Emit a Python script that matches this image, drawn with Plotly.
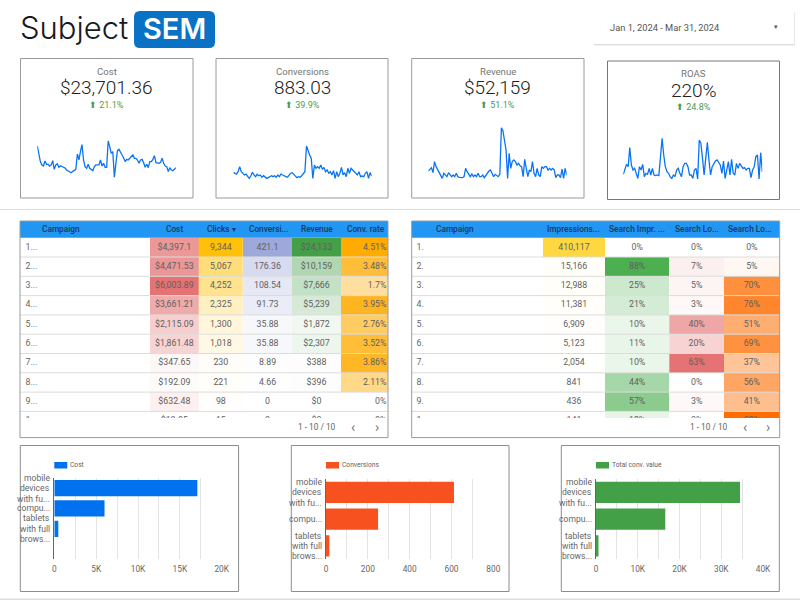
import plotly.graph_objects as go

W, H = 800, 601
# ---------- data ----------
kpi_names = ["Cost", "Conversions", "Revenue", "ROAS"]
kpi_values = ["$23,701.36", "883.03", "$52,159", "220%"]
kpi_deltas = ["21.1%", "39.9%", "51.1%", "24.8%"]

cost_daily = [488,389,315,278,266,322,285,285,266,278,326,229,278,292,252,270,259,248,244,222,215,200,192,207,222,229,400,333,426,503,333,259,241,285,241,222,215,259,278,278,278,333,266,296,252,252,544,481,407,426,141,296,437,451,426,389,359,315,340,333,352,377,389,352,352,333,296,333,340,303,252,285,248,315,315,340,381,303,296,296,307,352,296,266,259,204,248,222,215,229,248]
conv_daily = [11.4,10.8,10.3,11.8,15.1,11.8,10.8,9.7,10.3,9.2,7.5,9.0,11.4,9.7,8.6,10.1,9.2,9.7,8.2,9.2,8.2,7.5,8.0,8.6,9.2,8.6,9.2,8.2,9.7,8.6,10.3,9.7,9.0,8.6,8.2,9.7,10.8,11.2,10.1,9.2,8.0,8.6,8.2,9.2,10.8,11.8,28.4,24.7,22.6,20.4,7.5,16.1,14.0,15.1,14.0,16.1,13.3,14.6,11.8,12.9,10.8,11.8,9.7,12.5,7.5,11.8,8.6,10.8,14.6,9.7,11.2,8.6,14.0,10.8,14.0,12.9,11.8,11.2,9.7,11.8,8.6,9.0,8.6,10.8,11.8,7.5,11.2,9.0]
rev_daily = [655,713,770,598,977,805,690,632,517,402,575,517,460,598,517,460,517,460,575,460,437,437,425,460,747,632,517,460,552,460,517,460,575,460,460,517,425,517,575,655,690,575,460,540,494,460,540,2150,2035,1725,1380,402,1265,747,977,1035,977,862,920,839,805,460,1058,747,460,690,632,977,575,460,747,517,460,805,747,805,805,690,747,690,747,690,425,517,517,425,724,402,747,517]
roas_daily = [141,180,231,210,381,225,180,195,150,105,210,180,231,120,150,141,195,135,195,135,129,135,129,285,465,315,210,165,150,120,105,135,120,180,195,150,120,210,240,240,210,135,135,105,180,195,99,450,420,285,135,285,429,270,135,210,240,261,270,249,225,150,261,105,195,255,135,276,150,135,240,195,240,210,195,201,180,195,195,111,180,210,300,315,99,336,165]

t1_headers = ["Campaign", "Cost", "Clicks ▾", "Conversi...", "Revenue", "Conv. rate"]
t1_rank = ["1...", "2...", "3...", "4...", "5...", "6...", "7...", "8...", "9...", "1..."]
t1_cost = [4397.1, 4471.53, 6003.89, 3661.21, 2115.09, 1861.48, 347.65, 192.09, 632.48, 19.05]
t1_clicks = [9344, 5067, 4252, 2325, 1300, 1018, 230, 221, 98, 15]
t1_conv = [421.1, 176.36, 108.54, 91.73, 35.88, 35.88, 8.89, 4.66, 0, 0]
t1_rev = [24133, 10159, 7666, 5239, 1872, 2307, 388, 396, 0, 0]
t1_rate = [4.51, 3.48, 1.7, 3.95, 2.76, 3.52, 3.86, 2.11, 0, 0]

t2_headers = ["Campaign", "Impressions...", "Search Impr. ...", "Search Lo...", "Search Lo..."]
t2_rank = ["1.", "2.", "3.", "4.", "5.", "6.", "7.", "8.", "9.", "1."]
t2_impr = [410117, 15166, 12988, 11381, 6909, 5123, 2054, 841, 436, 141]
t2_share = [0, 88, 25, 21, 10, 11, 10, 44, 57, 12]
t2_lost_a = [0, 7, 5, 3, 40, 20, 63, 0, 3, 0]
t2_lost_b = [0, 5, 70, 76, 51, 69, 37, 56, 41, 92]

device_labels = [["mobile", "devices", "with fu..."], ["compu..."], ["tablets", "with full", "brows..."]]
device_cost = [17090, 6000, 480, None]
device_conv = [612, 249, 16]
device_value = [34500, 16600, 600]

# ---------- helpers ----------
px = lambda x: x / W
py = lambda y: 1 - y / H
shapes, annos, traces, axes = [], [], [], {}

def rect(x0, y0, x1, y1, line=None, fill=None, lw=1):
    shapes.append(dict(type="rect", xref="paper", yref="paper", x0=px(x0), x1=px(x1), y0=py(y0), y1=py(y1),
                       line=dict(color=line, width=lw) if line else dict(width=0), fillcolor=fill or "rgba(0,0,0,0)"))

def text(x, y, s, size=10, color="#555555", anchor="center", family="Roboto", weight=None):
    f = dict(size=size, color=color, family=family)
    if weight: f["weight"] = weight
    annos.append(dict(xref="paper", yref="paper", x=px(x), y=py(y), text=s, showarrow=False, xanchor=anchor,
                      yanchor="middle", font=f, borderpad=0, borderwidth=0))

def make_axes(n, x0, x1, y0, y1, xopt, yopt):
    axes[f"xaxis{n}"] = dict(domain=[px(x0), px(x1)], anchor=f"y{n}", fixedrange=True, automargin=False, **xopt)
    axes[f"yaxis{n}"] = dict(domain=[py(y1), py(y0)], anchor=f"x{n}", fixedrange=True, automargin=False, **yopt)

HIDE = dict(visible=False, showgrid=False, zeroline=False)

# ---------- header ----------
text(20, 28, "Subject", 31, "#1a1a1a", "left", "Inter", 300)
shapes.append(dict(type="path", xref="paper", yref="paper", fillcolor="#0a72c4", line=dict(width=0),
    path=" ".join([f"M {px(140)} {py(11)}", f"L {px(209)} {py(11)}", f"Q {px(215)} {py(11)} {px(215)} {py(17)}",
                   f"L {px(215)} {py(42)}", f"Q {px(215)} {py(48)} {px(209)} {py(48)}", f"L {px(140)} {py(48)}",
                   f"Q {px(134)} {py(48)} {px(134)} {py(42)}", f"L {px(134)} {py(17)}", f"Q {px(134)} {py(11)} {px(140)} {py(11)} Z"])))
text(174.5, 29, "SEM", 29, "#ffffff", "center", "Inter", 600)
rect(594, 13, 795, 46, fill="#f0f0f0")
rect(594, 12, 794.5, 45, fill="#e0e0e0")
rect(594, 11, 794, 44, fill="#ffffff")
text(610, 28, "Jan 1, 2024 - Mar 31, 2024", 9.3, "#555555", "left")
text(776, 27.5, "▾", 7, "#555555")

# separators
rect(0, 209, 800, 210, fill="#dddddd")
rect(0, 598.5, 800, 600, fill="#dddddd")

# ---------- KPI cards ----------
cards = [(20.5, 58.5, 193, 198, 130, 190, 37.3, 176, cost_daily, 666, 106.5, "#9a9a9a"),
         (216, 58.5, 388, 198, 130, 190, 233.3, 371.7, conv_daily, 38.7, 302, "#9a9a9a"),
         (411.7, 58.5, 584, 198, 125, 190, 428.3, 566.7, rev_daily, 2242, 497.7, "#9a9a9a"),
         (607.5, 61, 779.5, 199.5, 125, 190, 623.3, 762.3, roas_daily, 585, 693.5, "#777777")]
for i, (x0, y0, x1, y1, sy0, sy1, sx0, sx1, series, ymax, cx, bc) in enumerate(cards):
    rect(x0, y0, x1, y1, line=bc)
    d = y0 - 58.5
    text(cx, 71 + d, kpi_names[i], 9.6, "#757575")
    text(cx, 88 + d, kpi_values[i], 19, "#212121", "center", "Roboto", 300)
    text(cx, 104.7 + d, "⬆ " + kpi_deltas[i], 9, "#4a9d4e")
    n = i + 1
    make_axes(n, sx0, sx1, sy0, sy1, dict(HIDE, range=[0, len(series) - 1]), dict(HIDE, range=[0, ymax]))
    traces.append(go.Scatter(x=list(range(len(series))), y=series, mode="lines", xaxis=f"x{n}", yaxis=f"y{n}",
                             line=dict(color="#0a74f5", width=1.3), hoverinfo="skip", showlegend=False, cliponaxis=False))

# ---------- tables ----------
TOP, BOTTOM, HEAD, ROW_H = 237.7, 418.0, 221, 19.3
rows_visible = (BOTTOM - TOP) / ROW_H
row_idx = list(range(10))

def money2(v): return "$" + f"{v:,.2f}".rstrip("0").rstrip(".") if v else "$0"
def money0(v): return f"${v:,.0f}"
def plain(v): return f"{v:,}"
def pct(v): return f"{v:g}%"

def table(n, x0, x1, edges, rank, rank_x, cols, headers, head_x, foot_x, chev):
    make_axes(n, x0, x1, TOP, BOTTOM, dict(HIDE, range=[x0, x1]), dict(HIDE, range=[rows_visible, 0]))
    for j, (vals, col, fmt, align) in enumerate(cols):
        le, re = edges[j], edges[j + 1]
        traces.append(go.Heatmap(z=[[v] for v in vals], x=[le, re], y=list(range(11)), xaxis=f"x{n}", yaxis=f"y{n}",
                                 colorscale=[[0, "#ffffff"], [1, col]], zmin=0, zmax=max(vals), showscale=False,
                                 hoverinfo="skip"))
        tx = (le + re) / 2 if align == "c" else re - 1.5
        traces.append(go.Scatter(x=[tx] * 10, y=[r + 0.5 for r in row_idx], mode="text", text=[fmt(v) for v in vals],
                                 textposition="middle center" if align == "c" else "middle left",
                                 textfont=dict(size=8.8, color="#5f5f5f", family="Roboto"),
                                 xaxis=f"x{n}", yaxis=f"y{n}", hoverinfo="skip", showlegend=False))
    traces.append(go.Scatter(x=[rank_x] * 10, y=[r + 0.5 for r in row_idx], mode="text", text=rank,
                             textposition="middle right", textfont=dict(size=8.8, color="#666666", family="Roboto"),
                             xaxis=f"x{n}", yaxis=f"y{n}", hoverinfo="skip", showlegend=False))
    for r in range(1, 10):
        shapes.append(dict(type="line", xref=f"x{n} domain", yref=f"y{n}", x0=0, x1=1, y0=r, y1=r,
                           line=dict(color="#dcdcdc", width=1)))
    rect(x0, HEAD, x1, 237.7, fill="#2196f3")
    rect(x0, HEAD, x1, 437.6, line="#9a9a9a")
    for j, (h, hx) in enumerate(zip(headers, head_x)):
        text(hx, 229, h, 8.3, "#173a5e", "left" if j == 0 else "center", "Roboto", 500)
    text(foot_x, 427, "1 - 10 / 10", 8.3, "#5f5f5f")
    text(chev[0], 426.5, "‹", 14, "#777777")
    text(chev[1], 426.5, "›", 14, "#777777")

table(5, 20, 388, [150, 198.7, 243, 292, 341, 388], t1_rank, 25.5,
      [(t1_cost, "#e57373", money2, "c"), (t1_clicks, "#ffc107", plain, "c"), (t1_conv, "#9fa8da", lambda v: f"{v:g}", "c"),
       (t1_rev, "#43a047", money0, "c"), (t1_rate, "#ffab00", pct, "r")],
      t1_headers, [42.3, 174, 221, 268, 316.5, 366], 317, (353, 377))
table(6, 411.7, 779.7, [543, 605, 669.3, 724, 779.7], t2_rank, 416.5,
      [(t2_impr, "#ffd740", plain, "c"), (t2_share, "#4caf50", pct, "c"), (t2_lost_a, "#e57373", pct, "c"), (t2_lost_b, "#ff6d00", pct, "c")],
      t2_headers, [435.7, 573, 636.7, 696.7, 750], 708.5, (745, 768))

# ---------- bar charts ----------
def k_ticks(step, major, top):
    vals = [step * i for i in range(int(top / step) + 1)]
    lab = []
    for v in vals:
        if v % major: lab.append("")
        elif v == 0: lab.append("0")
        else: lab.append(f"{v // 1000}K" if top >= 1000 else str(v))
    return vals, lab

bars = [(7, 20.3, 238.6, 54.3, 221.7, 478, 559.3, device_cost, "Cost", "#0072f0", 2500, 5000, 20000),
        (8, 291.3, 509, 326, 493.3, 479, 559.3, device_conv, "Conversions", "#f6511e", 100, 200, 800),
        (9, 561.3, 779.3, 596, 763, 479, 559.3, device_value, "Total conv. value", "#43a047", 5000, 10000, 40000)]
for n, fx0, fx1, ax0, ax1, ay0, ay1, vals, name, color, step, major, top in bars:
    rect(fx0, 445.5, fx1, 591.5, line="#8c8c8c")
    cats = [f"c{i}" for i in range(len(vals))]
    tv, tl = k_ticks(step, major, top)
    make_axes(n, ax0, ax1, ay0, ay1,
              dict(range=[0, top], tickvals=tv, ticktext=tl, showgrid=True, gridcolor="#e4e4e4", gridwidth=1,
                   zeroline=False, showline=False, ticks="", ticklen=0, ticklabelstandoff=3,
                   tickfont=dict(size=8.3, color="#666666", family="Roboto"), side="bottom"),
              dict(type="category", categoryorder="array", categoryarray=cats, range=[len(vals) - 0.5, -0.5],
                   showticklabels=False, showgrid=False, zeroline=False, showline=True, linecolor="#666666",
                   linewidth=1, ticks=""))
    traces.append(go.Bar(x=vals, y=cats, orientation="h", marker=dict(color=color, line=dict(color=color, width=0)),
                         width=0.8, xaxis=f"x{n}", yaxis=f"y{n}", hoverinfo="skip", showlegend=False))
    spacing = 10.4 if n != 7 else 10.5
    for cat, lines in zip(cats, device_labels):
        for k, line in enumerate(lines):
            annos.append(dict(xref="paper", yref=f"y{n}", x=px(ax0 - 2), y=cat, text=line, showarrow=False, xanchor="right",
                              yanchor="middle", yshift=-(k - (len(lines) - 1) / 2) * spacing,
                              font=dict(size=8.6, color="#666666", family="Roboto")))
    rect(ax0, 462, ax0 + 13, 468.5, fill=color)
    text(ax0 + 16, 465.3, name, 6.7, "#5f5f5f", "left")

fig = go.Figure(traces)
fig.update_layout(width=W, height=H, margin=dict(l=0, r=0, t=0, b=0), paper_bgcolor="#ffffff", plot_bgcolor="rgba(0,0,0,0)",
                  shapes=shapes, annotations=annos, showlegend=False, barmode="overlay", **axes)
fig.write_html("out.html", config=dict(displayModeBar=False),
               post_script="document.body.style.margin='0';document.documentElement.style.overflow='hidden';")
